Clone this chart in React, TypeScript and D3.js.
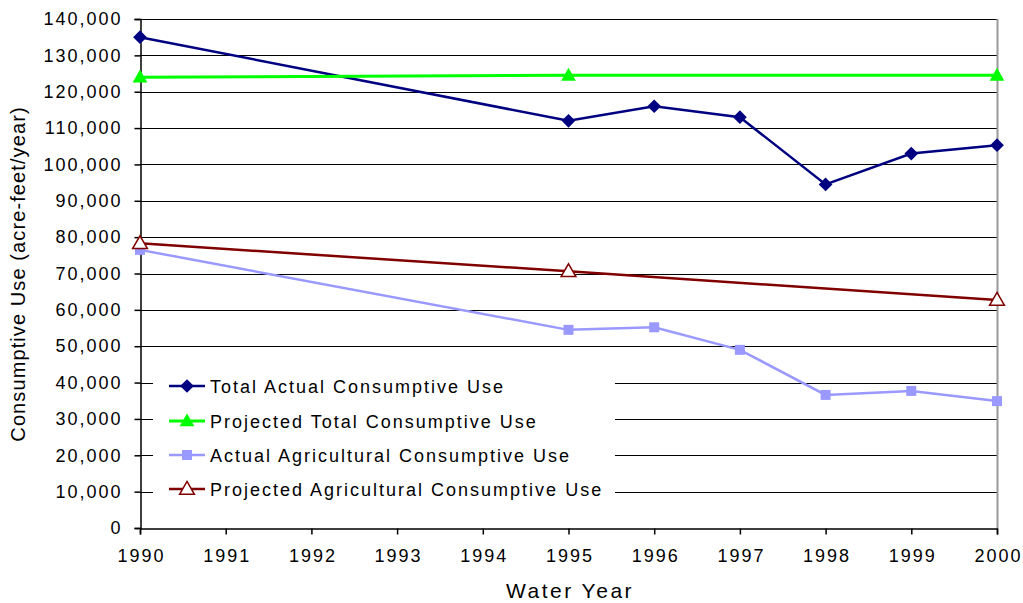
import * as d3 from 'd3'
import { useEffect, useRef } from 'react'

const totalYears = [1990, 1995, 1996, 1997, 1998, 1999, 2000]
const totalActual = [135000, 112000, 116000, 113000, 94500, 103000, 105300]
const projYears = [1990, 1995, 2000]
const projTotal = [124000, 124500, 124500]
const agActual = [76500, 54500, 55200, 49000, 36600, 37700, 34900]
const projAg = [78300, 70600, 62700]
const xTicks = [1990, 1991, 1992, 1993, 1994, 1995, 1996, 1997, 1998, 1999, 2000]
const yTicks = d3.range(0, 140001, 10000)

const seriesNames = [
  'Total Actual Consumptive Use',
  'Projected Total Consumptive Use',
  'Actual Agricultural Consumptive Use',
  'Projected Agricultural Consumptive Use',
]

export default function App() {
  const svgRef = useRef<SVGSVGElement>(null)
  const width = 1023
  const height = 603
  const m = { left: 140, right: 26, top: 19, bottom: 75 }

  useEffect(() => {
    const svg = d3.select(svgRef.current)
    svg.selectAll('*').remove()
    const font = '"Liberation Sans", Arial, sans-serif'

    const x = d3.scaleLinear().domain([1990, 2000]).range([m.left, width - m.right])
    const y = d3.scaleLinear().domain([0, 140000]).range([height - m.bottom, m.top])

    svg.append('rect').attr('width', width).attr('height', height).attr('fill', '#fff')

    // gridlines
    svg.append('g').selectAll('line').data(yTicks.slice(1)).enter().append('line')
      .attr('x1', m.left).attr('x2', width - m.right)
      .attr('y1', d => Math.round(y(d)) + 0.5).attr('y2', d => Math.round(y(d)) + 0.5)
      .attr('stroke', '#000').attr('stroke-width', 1)

    // right border of plot
    svg.append('line')
      .attr('x1', width - m.right + 0.5).attr('x2', width - m.right + 0.5)
      .attr('y1', m.top).attr('y2', height - m.bottom)
      .attr('stroke', '#999').attr('stroke-width', 2)

    // legend box (hides gridlines)
    const lg = svg.append('g')
    lg.append('rect').attr('x', 153).attr('y', 366).attr('width', 462).attr('height', 140).attr('fill', '#fff')

    // axes
    const xAxis = d3.axisBottom(x).tickValues(xTicks).tickFormat(d3.format('d')).tickSizeOuter(0).tickSize(6).tickPadding(15)
    const gx = svg.append('g').attr('transform', `translate(0,${Math.round(y(0)) + 0.5})`).call(xAxis)
    gx.selectAll('text').style('font-size', '18px').style('font-family', font)
      .style('letter-spacing', '2px').attr('dx', '1px').attr('fill', '#000')
    gx.selectAll('line,path').attr('stroke', '#000').attr('stroke-width', 1.5)

    const yAxis = d3.axisLeft(y).tickValues(yTicks).tickFormat(d3.format(',')).tickSizeOuter(0).tickSize(6).tickPadding(12)
    const gy = svg.append('g').attr('transform', `translate(${m.left + 0.5},0)`).call(yAxis)
    gy.selectAll('text').style('font-size', '18px').style('font-family', font)
      .style('letter-spacing', '2px').attr('fill', '#000')
    gy.selectAll('line,path').attr('stroke', '#000').attr('stroke-width', 1.5)

    svg.append('text').attr('x', 570).attr('y', 598)
      .attr('text-anchor', 'middle').style('font-family', font).style('font-size', '21px')
      .style('letter-spacing', '2.5px').text('Water Year')
    svg.append('text').attr('transform', `translate(25,274) rotate(-90)`)
      .attr('text-anchor', 'middle').style('font-family', font).style('font-size', '20px')
      .style('letter-spacing', '1.1px').text('Consumptive Use (acre-feet/year)')

    const line = d3.line<[number, number]>().x(d => x(d[0])).y(d => y(d[1]))

    const diamond = d3.symbol().type(d3.symbolDiamond2).size(120)
    const square = d3.symbol().type(d3.symbolSquare).size(100)
    const triangle = d3.symbol().type(d3.symbolTriangle).size(95)

    const series = [
      { xs: totalYears, ys: totalActual, color: '#000080', w: 2.5, shape: diamond, fill: '#000080' },
      { xs: projYears, ys: projTotal, color: '#00ff00', w: 3, shape: triangle, fill: '#00ff00' },
      { xs: totalYears, ys: agActual, color: '#9999ff', w: 2.5, shape: square, fill: '#9999ff' },
      { xs: projYears, ys: projAg, color: '#800000', w: 2.5, shape: triangle, fill: '#fff' },
    ]

    series.forEach(s => {
      const pts = s.xs.map((yr, i) => [yr, s.ys[i]] as [number, number])
      svg.append('path').attr('d', line(pts)).attr('fill', 'none')
        .attr('stroke', s.color).attr('stroke-width', s.w)
      svg.append('g').selectAll('path').data(pts).enter().append('path')
        .attr('d', s.shape()!)
        .attr('transform', d => `translate(${x(d[0])},${y(d[1]) + (s.shape === triangle ? 1 : 0)})`)
        .attr('fill', s.fill).attr('stroke', s.color).attr('stroke-width', s.fill === '#fff' ? 1.5 : 0)
    })

    // legend
    const rowY = [386, 421, 455, 489]
    series.forEach((s, i) => {
      const g = lg.append('g').attr('transform', `translate(0,${rowY[i]})`)
      g.append('line').attr('x1', 169).attr('x2', 205).attr('y1', 0).attr('y2', 0)
        .attr('stroke', s.color).attr('stroke-width', s.w)
      g.append('path').attr('d', s.shape()!).attr('transform', `translate(187,${s.shape === triangle ? 1 : 0})`)
        .attr('fill', s.fill).attr('stroke', s.color).attr('stroke-width', s.fill === '#fff' ? 1.5 : 0)
      g.append('text').attr('x', 210).attr('y', 6.5).style('font-family', font).style('font-size', '18px')
        .style('letter-spacing', '2px').text(seriesNames[i])
    })
  }, [])

  return (
    <svg ref={svgRef} width={width} height={height}
      style={{ position: 'absolute', left: 0, top: 0, display: 'block' }} />
  )
}
